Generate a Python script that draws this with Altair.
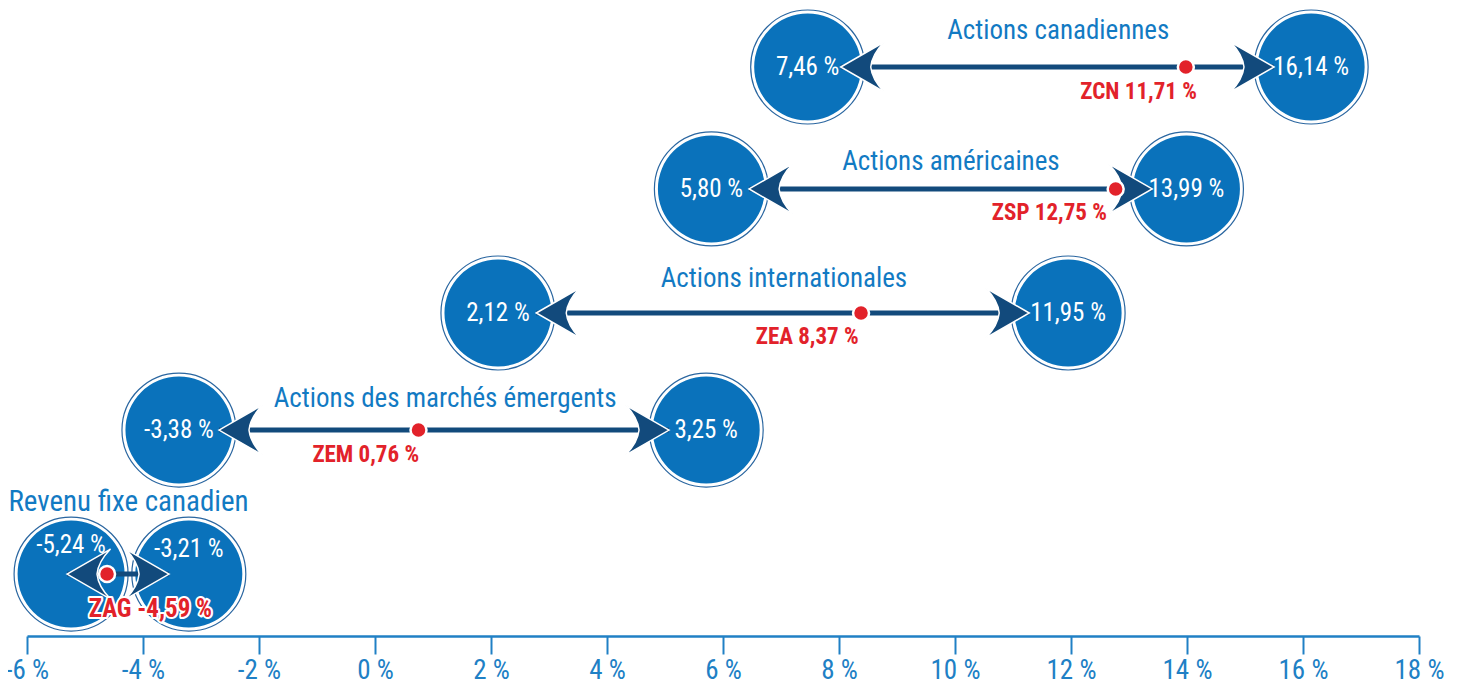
import altair as alt
import pandas as pd

# ---- data ----
categories = [
    "Actions canadiennes",
    "Actions américaines",
    "Actions internationales",
    "Actions des marchés émergents",
    "Revenu fixe canadien",
]
low_values = [7.46, 5.80, 2.12, -3.38, -5.24]
high_values = [16.14, 13.99, 11.95, 3.25, -3.21]
etf_names = ["ZCN", "ZSP", "ZEA", "ZEM", "ZAG"]
etf_values = [11.71, 12.75, 8.37, 0.76, -4.59]
tick_values = [-6, -4, -2, 0, 2, 4, 6, 8, 10, 12, 14, 16, 18]

# ---- layout, as drawn in the picture (axis units) ----
row_level = [4.666, 3.666, 2.649, 1.689, 0.508]
low_pos = [7.46, 5.80, 2.12, -3.38, -5.24]
high_pos = [16.14, 13.99, 11.95, 5.71, -3.21]
dot_pos = [13.98, 12.77, 8.38, 0.75, -4.62]
arrow_left = [8.03, 6.45, 2.78, -2.69, -5.31]
arrow_right = [15.50, 13.40, 11.28, 5.07, -3.55]
title_x = [11.78, 9.93, 7.05, 1.21, -4.25]
title_up_px = [36, 27, 34, 31, 72]
title_size = [27, 27, 27, 27, 29]
label_right = [14.17, 12.62, 8.34, 0.76, -2.81]
label_down_px = [25, 24, 24, 25, 35]
label_size = [23, 23, 23, 23, 25]
low_text_up_px = [0, 0, 0, 0, 29]
high_text_up_px = [0, 0, 0, 0, 25]

PLOT_W, PLOT_H = 1392, 628
Y_MAX = 5.15
PX = PLOT_H / Y_MAX

FONT = "Liberation Sans Narrow, Arial Narrow, Roboto Condensed, Roboto, sans-serif"
NAVY = "#124a7c"
DISK = "#0a72bb"
RING = "#2a66a0"
TITLE_BLUE = "#127ac3"
AXIS_BLUE = "#2080c5"
RED = "#e2222a"


def fmt(v):
    return f"{v:.2f}".replace(".", ",") + " %"


rows = pd.DataFrame({
    "cat": categories,
    "level": row_level,
    "aL": arrow_left,
    "aR": arrow_right,
    "dot": dot_pos,
    "tx": title_x,
    "ty": [l + u / PX for l, u in zip(row_level, title_up_px)],
    "tfs": title_size,
    "lx": label_right,
    "ly": [l - d / PX for l, d in zip(row_level, label_down_px)],
    "lfs": label_size,
    "lab": [f"{n} {fmt(v)}" for n, v in zip(etf_names, etf_values)],
})

circles = pd.DataFrame({
    "x": low_pos + high_pos,
    "level": row_level + row_level,
    "txt": [fmt(v) for v in low_values] + [fmt(v) for v in high_values],
    "ty": [l + u / PX for l, u in zip(row_level, low_text_up_px)]
    + [l + u / PX for l, u in zip(row_level, high_text_up_px)],
})

xs = alt.Scale(domain=[-6, 18], nice=False, zero=False)
ys = alt.Scale(domain=[0, Y_MAX], nice=False, zero=False)

x_axis = alt.Axis(
    values=tick_values,
    labelExpr="datum.value + ' %'",
    grid=False,
    domainColor=AXIS_BLUE,
    domainWidth=2.5,
    tickColor=AXIS_BLUE,
    tickWidth=2,
    tickSize=18,
    labelColor=AXIS_BLUE,
    labelFont=FONT,
    labelFontSize=27,
    labelPadding=3,
    labelFlush=False,
    labelOverlap=False,
)


def X(f):
    return alt.X(f, type="quantitative", scale=xs, axis=x_axis, title=None)


def Y(f):
    return alt.Y(f, type="quantitative", scale=ys, axis=None, title=None)


outer = alt.Chart(circles).mark_circle(
    size=114 * 114, fill="white", stroke=RING, strokeWidth=1.2, opacity=1
).encode(x=X("x"), y=Y("level"))

inner = alt.Chart(circles).mark_circle(
    size=107 * 107, color=DISK, opacity=1
).encode(x=X("x"), y=Y("level"))

line = alt.Chart(rows).mark_rule(color=NAVY, strokeWidth=5).encode(
    x=X("aL"), x2="aR", y=Y("level")
)

RIGHT_HEAD = "M0,0 L-1.74,-1 Q-1.25,-0.5 -1.2,0 Q-1.25,0.5 -1.74,1 Z"
LEFT_HEAD = "M0,0 L1.74,-1 Q1.25,-0.5 1.2,0 Q1.25,0.5 1.74,1 Z"
HEAD_SIZE = 50 * 50

head_r = alt.Chart(rows).mark_point(
    shape=RIGHT_HEAD, size=HEAD_SIZE, filled=True, fill=NAVY, stroke="white",
    strokeWidth=1.5, opacity=1
).encode(x=X("aR"), y=Y("level"))

head_l = alt.Chart(rows).mark_point(
    shape=LEFT_HEAD, size=HEAD_SIZE, filled=True, fill=NAVY, stroke="white",
    strokeWidth=1.5, opacity=1
).encode(x=X("aL"), y=Y("level"))

values_txt = alt.Chart(circles).mark_text(
    font=FONT, fontSize=25, color="white", align="center", baseline="middle"
).encode(x=X("x"), y=Y("ty"), text="txt")

dots = alt.Chart(rows).mark_circle(
    size=256, color=RED, stroke="white", strokeWidth=2.5, opacity=1
).encode(x=X("dot"), y=Y("level"))

titles = alt.Chart(rows).mark_text(
    font=FONT, color=TITLE_BLUE, align="center", baseline="middle"
).encode(
    x=X("tx"), y=Y("ty"), text="cat",
    size=alt.Size("tfs:Q", scale=None, legend=None),
)

halo = alt.Chart(rows).mark_text(
    font=FONT, fontWeight="bold", fill=RED, stroke="white",
    strokeWidth=4, strokeJoin="round", align="right", baseline="middle"
).encode(
    x=X("lx"), y=Y("ly"), text="lab",
    size=alt.Size("lfs:Q", scale=None, legend=None),
)

labels = alt.Chart(rows).mark_text(
    font=FONT, fontWeight="bold", color=RED,
    align="right", baseline="middle"
).encode(
    x=X("lx"), y=Y("ly"), text="lab",
    size=alt.Size("lfs:Q", scale=None, legend=None),
)

chart = alt.layer(
    outer, inner, line, head_l, head_r, values_txt, dots, titles, halo, labels
).properties(
    width=PLOT_W,
    height=PLOT_H,
    autosize="none",
    padding={"left": 19, "top": 0, "right": 34, "bottom": 50},
    background="white",
).configure_view(stroke=None)

chart.save("out.html", embed_options={"renderer": "svg", "actions": False})
